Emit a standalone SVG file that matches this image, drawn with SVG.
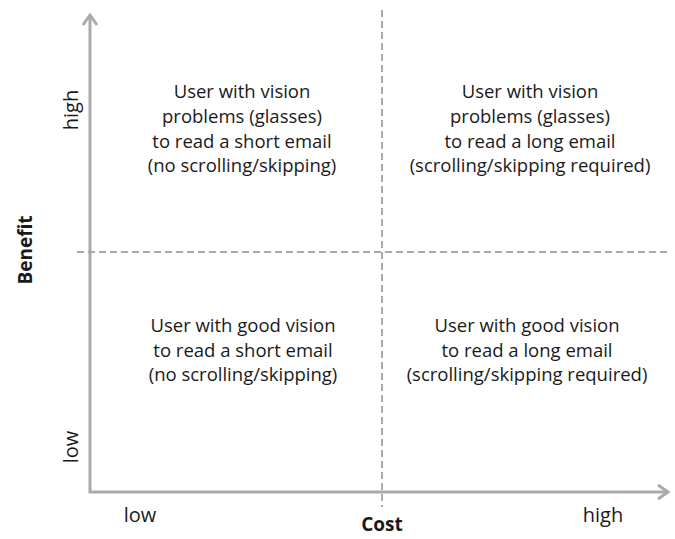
<svg xmlns="http://www.w3.org/2000/svg" width="675" height="539" viewBox="0 0 675 539">
<style>
.t{font-family:"Open Sans","Noto Sans",sans-serif;font-size:18.5px;fill:#1a1a1a;text-anchor:middle}
.a{font-size:20px}
.b{font-weight:bold;font-size:19px}
.ax{stroke:#aaaaaa;stroke-width:3;fill:none}
.ds{stroke:#aaaaaa;stroke-width:2;stroke-dasharray:7 4;fill:none}
</style>
<rect width="675" height="539" fill="#ffffff"/>
<g id="connectors">
<line class="ds" x1="382" y1="10" x2="382" y2="507"/>
<line class="ds" x1="77" y1="252" x2="670" y2="252"/>
<polyline class="ax" points="90,16 90,492 667,492"/>
<polyline class="ax" points="83,25 90,15 97,25"/>
<polyline class="ax" points="658,485 668,492 658,499"/>
</g>
<g id="axis-labels">
<text class="t a" transform="translate(78,110) rotate(-90)">high</text>
<text class="t a" transform="translate(78,447) rotate(-90)">low</text>
<text class="t b" transform="translate(32,250) rotate(-90)">Benefit</text>
<text class="t a" x="140" y="522">low</text>
<text class="t b" x="382" y="531">Cost</text>
<text class="t a" x="603" y="522">high</text>
</g>
<g id="q-top-left">
<text class="t" x="242" y="98">User with vision</text>
<text class="t" x="242" y="123">problems (glasses)</text>
<text class="t" x="242" y="148">to read a short email</text>
<text class="t" x="242" y="172">(no scrolling/skipping)</text>
</g>
<g id="q-top-right">
<text class="t" x="530" y="98">User with vision</text>
<text class="t" x="530" y="123">problems  (glasses)</text>
<text class="t" x="530" y="148">to read a long email</text>
<text class="t" x="530" y="172">(scrolling/skipping required)</text>
</g>
<g id="q-bottom-left">
<text class="t" x="243" y="332">User with good vision</text>
<text class="t" x="243" y="357">to read a short email</text>
<text class="t" x="243" y="381">(no scrolling/skipping)</text>
</g>
<g id="q-bottom-right">
<text class="t" x="527" y="332">User with good vision</text>
<text class="t" x="527" y="357">to read a long email</text>
<text class="t" x="527" y="381">(scrolling/skipping required)</text>
</g>
</svg>
